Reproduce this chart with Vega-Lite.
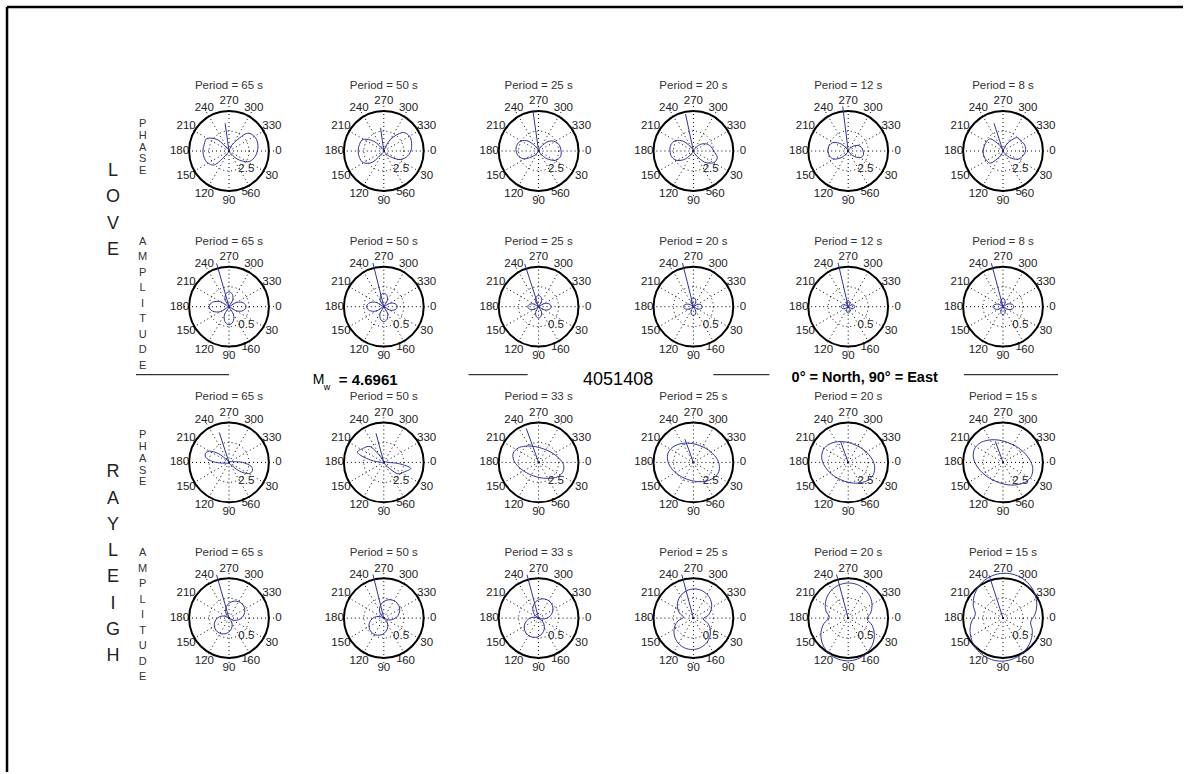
{
  "$schema": "https://vega.github.io/schema/vega-lite/v6.json",
  "background": "white",
  "padding": {"left": 5, "top": 5, "right": 0, "bottom": 0},
  "bounds": "flush",
  "spacing": {"row": 35.7, "column": 34.8},
  "data": {
    "values": [
      {"r": 0, "c": 0, "k": "phase", "t": "Period = 65 s", "rt": [2.5, 5], "g": [0,30,60,90,120,150,180,210,240,270,300,330],
       "az": [0,15,30,45,60,75,90,105,120,135,150,165,180,195,210,225,240,255,270,285,300,315,330,345],
       "v": [3.15,2.9,2.4,1.25,0.15,0.1,0.1,0.1,0.25,2.1,2.7,2.85,2.9,2.85,2.8,1.75,0.25,0.1,0.1,0.15,1.0,2.75,3.25,3.3], "sa": 262, "sv": 3.1},
      {"r": 0, "c": 1, "k": "phase", "t": "Period = 50 s", "rt": [2.5, 5], "g": [0,30,60,90,120,150,180,210,240,270,300,330],
       "az": [0,15,30,45,60,75,90,105,120,135,150,165,180,195,210,225,240,255,270,285,300,315,330,345],
       "v": [3.0,2.6,1.9,0.75,0.1,0.1,0.1,0.1,0.2,1.75,2.6,2.8,2.85,2.8,2.6,1.5,0.2,0.1,0.1,0.2,1.5,2.9,3.3,3.2], "sa": 262, "sv": 2.6},
      {"r": 0, "c": 2, "k": "phase", "t": "Period = 25 s", "rt": [2.5, 5], "g": [0,30,60,90,120,150,180,210,240,270,300,330],
       "az": [0,15,30,45,60,75,90,105,120,135,150,165,180,195,210,225,240,255,270,285,300,315,330,345],
       "v": [2.5,2.5,2.1,1.1,0.15,0.1,0.1,0.1,0.15,0.75,1.75,2.3,2.5,2.5,2.25,1.5,0.4,0.1,0.1,0.15,0.6,1.5,2.1,2.4], "sa": 262, "sv": 4.6},
      {"r": 0, "c": 3, "k": "phase", "t": "Period = 20 s", "rt": [2.5, 5], "g": [0,30,60,90,120,150,180,210,240,270,300,330],
       "az": [0,15,30,45,60,75,90,105,120,135,150,165,180,195,210,225,240,255,270,285,300,315,330,345],
       "v": [2.25,2.75,2.6,1.75,0.5,0.1,0.1,0.1,0.25,1.25,2.1,2.5,2.6,2.6,2.3,1.5,0.4,0.1,0.1,0.1,0.3,1.0,1.6,2.0], "sa": 258, "sv": 4.2},
      {"r": 0, "c": 4, "k": "phase", "t": "Period = 12 s", "rt": [2.5, 5], "g": [0,30,60,90,120,150,180,210,240,270,300,330],
       "az": [0,15,30,45,60,75,90,105,120,135,150,165,180,195,210,225,240,255,270,285,300,315,330,345],
       "v": [1.65,1.75,1.5,0.75,0.1,0.1,0.1,0.1,0.25,1.0,1.8,2.15,2.25,2.2,1.9,1.1,0.25,0.1,0.1,0.1,0.25,0.75,1.25,1.55], "sa": 263, "sv": 5.0},
      {"r": 0, "c": 5, "k": "phase", "t": "Period = 8 s", "rt": [2.5, 5], "g": [0,30,60,90,120,150,180,210,240,270,300,330],
       "az": [0,15,30,45,60,75,90,105,120,135,150,165,180,195,210,225,240,255,270,285,300,315,330,345],
       "v": [2.5,2.25,1.85,1.0,0.15,0.1,0.1,0.1,0.75,1.9,2.1,2.2,2.2,2.15,2.1,1.9,0.75,0.1,0.1,0.1,1.0,2.1,2.3,2.5], "sa": 252, "sv": 3.25},

      {"r": 1, "c": 0, "k": "amp", "t": "Period = 65 s", "rt": [0.5, 1], "g": [0,30,60,90,120,150,180,210,240,270,300,330],
       "az": [0,15,30,45,60,75,90,105,120,135,150,165,180,195,210,225,240,255,270,285,300,315,330,345],
       "v": [0.38,0.329,0.19,0,0.2,0.346,0.4,0.346,0.2,0,0.22,0.381,0.44,0.381,0.22,0,0.165,0.286,0.33,0.286,0.165,0,0.19,0.329], "sa": 254, "sv": 1},
      {"r": 1, "c": 1, "k": "amp", "t": "Period = 50 s", "rt": [0.5, 1], "g": [0,30,60,90,120,150,180,210,240,270,300,330],
       "az": [0,15,30,45,60,75,90,105,120,135,150,165,180,195,210,225,240,255,270,285,300,315,330,345],
       "v": [0.3,0.26,0.15,0,0.165,0.286,0.33,0.286,0.165,0,0.19,0.329,0.38,0.329,0.19,0,0.15,0.26,0.3,0.26,0.15,0,0.15,0.26], "sa": 256, "sv": 1},
      {"r": 1, "c": 2, "k": "amp", "t": "Period = 25 s", "rt": [0.5, 1], "g": [0,30,60,90,120,150,180,210,240,270,300,330],
       "az": [0,15,30,45,60,75,90,105,120,135,150,165,180,195,210,225,240,255,270,285,300,315,330,345],
       "v": [0.28,0.242,0.14,0,0.125,0.217,0.25,0.217,0.125,0,0.12,0.208,0.24,0.208,0.12,0,0.125,0.217,0.25,0.217,0.125,0,0.14,0.242], "sa": 252, "sv": 1},
      {"r": 1, "c": 3, "k": "amp", "t": "Period = 20 s", "rt": [0.5, 1], "g": [0,30,60,90,120,150,180,210,240,270,300,330],
       "az": [0,15,30,45,60,75,90,105,120,135,150,165,180,195,210,225,240,255,270,285,300,315,330,345],
       "v": [0.2,0.173,0.1,0,0.1,0.173,0.2,0.173,0.1,0,0.11,0.19,0.22,0.19,0.11,0,0.1,0.173,0.2,0.173,0.1,0,0.1,0.173], "sa": 256, "sv": 1},
      {"r": 1, "c": 4, "k": "amp", "t": "Period = 12 s", "rt": [0.5, 1], "g": [0,30,60,90,120,150,180,210,240,270,300,330],
       "az": [0,15,30,45,60,75,90,105,120,135,150,165,180,195,210,225,240,255,270,285,300,315,330,345],
       "v": [0.15,0.13,0.075,0,0.07,0.121,0.14,0.121,0.07,0,0.08,0.139,0.16,0.139,0.08,0,0.07,0.121,0.14,0.121,0.07,0,0.075,0.13], "sa": 257, "sv": 1},
      {"r": 1, "c": 5, "k": "amp", "t": "Period = 8 s", "rt": [0.5, 1], "g": [0,30,60,90,120,150,180,210,240,270,300,330],
       "az": [0,15,30,45,60,75,90,105,120,135,150,165,180,195,210,225,240,255,270,285,300,315,330,345],
       "v": [0.24,0.208,0.12,0,0.09,0.156,0.18,0.156,0.09,0,0.11,0.19,0.22,0.19,0.11,0,0.09,0.156,0.18,0.156,0.09,0,0.12,0.208], "sa": 255, "sv": 1},

      {"r": 2, "c": 0, "k": "phase", "t": "Period = 65 s", "rt": [2.5, 5], "g": [0,30,60,90,120,150,180,210,240,270,300,330],
       "az": [0,10,20,30,40,55,90,160,180,190,200,210,220,235,270,340],
       "v": [1.5,2.5,2.75,2.5,1.5,0.25,0.1,0.25,1.5,2.5,2.8,2.5,1.5,0.25,0.1,0.25], "sa": 252, "sv": 3.5},
      {"r": 2, "c": 1, "k": "phase", "t": "Period = 50 s", "rt": [2.5, 5], "g": [0,30,60,90,120,150,180,210,240,270,300,330],
       "az": [0,5,12,25,40,50,60,120,180,190,200,215,230,240,250,300],
       "v": [0.5,1.75,3.05,2.5,1.95,0.6,0.1,0.1,0.25,1.5,3.1,2.75,2.25,0.75,0.1,0.1], "sa": 255, "sv": 3.35},
      {"r": 2, "c": 2, "k": "phase", "t": "Period = 33 s", "rt": [2.5, 5], "g": [0,30,60,90,120,150,180,210,240,270,300,330],
       "az": [200,215,230,245,260,275,290,305,320,335,350,5,20,35,50,65,80,95,110,125,140,155,170,185],
       "v": [3.0,2.78,2.35,2.0,1.77,1.64,1.6,1.64,1.77,2.0,2.35,2.78,2.9,2.7,2.3,1.95,1.75,1.64,1.6,1.64,1.77,2.0,2.35,2.78], "sa": 250, "sv": 4.0},
      {"r": 2, "c": 3, "k": "phase", "t": "Period = 25 s", "rt": [2.5, 5], "g": [0,30,60,90,120,150,180,210,240,270,300,330],
       "az": [200,215,230,245,260,275,290,305,320,335,350,5,20,35,50,65,80,95,110,125,140,155,170,185],
       "v": [3.0,2.88,2.62,2.36,2.16,2.04,2.0,2.04,2.16,2.36,2.62,2.88,3.0,2.88,2.62,2.36,2.16,2.04,2.0,2.04,2.16,2.36,2.62,2.88], "sa": 250, "sv": 2.75},
      {"r": 2, "c": 4, "k": "phase", "t": "Period = 20 s", "rt": [2.5, 5], "g": [0,30,60,90,120,150,180,210,240,270,300,330],
       "az": [205,220,235,250,265,280,295,310,325,340,355,10,25,40,55,70,85,100,115,130,145,160,175,190],
       "v": [3.1,2.99,2.73,2.46,2.26,2.14,2.1,2.14,2.26,2.46,2.73,2.99,3.1,2.99,2.73,2.46,2.26,2.14,2.1,2.14,2.26,2.46,2.73,2.99], "sa": 250, "sv": 2.5},
      {"r": 2, "c": 5, "k": "phase", "t": "Period = 15 s", "rt": [2.5, 5], "g": [0,30,60,90,120,150,180,210,240,270,300,330],
       "az": [205,220,235,250,265,280,295,310,325,340,355,10,25,40,55,70,85,100,115,130,145,160,175,190],
       "v": [3.5,3.35,3.0,2.68,2.44,2.3,2.25,2.3,2.44,2.68,3.0,3.35,3.5,3.35,3.0,2.68,2.44,2.3,2.25,2.3,2.44,2.68,3.0,3.35], "sa": 250, "sv": 2.5},

      {"r": 3, "c": 0, "k": "amp", "t": "Period = 65 s", "rt": [0.5, 1], "g": [0,30,60,90,120,150,180,210,240,270,300,330],
       "az": [310,325,340,355,10,25,40,55,70,85,100,115,130,145,160,175,190,205,220,235,250,265,280,295],
       "v": [0.43,0.415,0.372,0.304,0.215,0.111,0,0.104,0.2,0.283,0.346,0.386,0.4,0.386,0.346,0.283,0.2,0.104,0,0.111,0.215,0.304,0.372,0.415], "sa": 254, "sv": 1},
      {"r": 3, "c": 1, "k": "amp", "t": "Period = 50 s", "rt": [0.5, 1], "g": [0,30,60,90,120,150,180,210,240,270,300,330],
       "az": [305,320,335,350,5,20,35,50,65,80,95,110,125,140,155,170,185,200,215,230,245,260,275,290],
       "v": [0.45,0.435,0.39,0.318,0.225,0.117,0,0.109,0.21,0.297,0.364,0.406,0.42,0.406,0.364,0.297,0.21,0.109,0,0.117,0.225,0.318,0.39,0.435], "sa": 256, "sv": 1},
      {"r": 3, "c": 2, "k": "amp", "t": "Period = 33 s", "rt": [0.5, 1], "g": [0,30,60,90,120,150,180,210,240,270,300,330],
       "az": [295,310,325,340,355,10,25,40,55,70,85,100,115,130,145,160,175,190,205,220,235,250,265,280],
       "v": [0.45,0.435,0.39,0.318,0.225,0.117,0,0.117,0.225,0.318,0.39,0.435,0.45,0.435,0.39,0.318,0.225,0.117,0,0.117,0.225,0.318,0.39,0.435], "sa": 255, "sv": 1},
      {"r": 3, "c": 3, "k": "amp", "t": "Period = 25 s", "rt": [0.5, 1], "g": [0,30,60,90,120,150,180,210,240,270,300,330],
       "az": [275,290,305,320,335,350,5,20,35,50,65,80,95,110,125,140,155,170,185,200,215,230,245,260],
       "v": [0.65,0.635,0.592,0.524,0.435,0.331,0.22,0.344,0.46,0.559,0.636,0.684,0.7,0.684,0.636,0.559,0.46,0.344,0.22,0.331,0.435,0.524,0.592,0.635], "sa": 255, "sv": 1},
      {"r": 3, "c": 4, "k": "amp", "t": "Period = 20 s", "rt": [0.5, 1], "g": [0,30,60,90,120,150,180,210,240,270,300,330],
       "az": [272,287,302,317,332,347,2,17,32,47,62,77,92,107,122,137,152,167,182,197,212,227,242,257],
       "v": [0.78,0.768,0.732,0.675,0.6,0.513,0.42,0.557,0.685,0.795,0.879,0.932,0.95,0.932,0.879,0.795,0.685,0.557,0.42,0.513,0.6,0.675,0.732,0.768], "sa": 255, "sv": 1},
      {"r": 3, "c": 5, "k": "amp", "t": "Period = 15 s", "rt": [0.5, 1], "g": [0,30,60,90,120,150,180,210,240,270,300,330],
       "az": [278,293,308,323,338,353,8,23,38,53,68,83,98,113,128,143,158,173,188,203,218,233,248,263],
       "v": [1.0,0.987,0.949,0.889,0.81,0.718,0.62,0.708,0.79,0.86,0.914,0.948,0.96,0.948,0.914,0.86,0.79,0.708,0.62,0.718,0.81,0.889,0.949,0.987], "sa": 252, "sv": 1}
    ]
  },
  "facet": {
    "row": {"field": "r", "type": "ordinal", "header": {"labels": false, "title": null}},
    "column": {"field": "c", "type": "ordinal", "header": {"labels": false, "title": null}}
  },
  "spec": {
    "width": 120,
    "height": 120,
    "layer": [
      {
        "transform": [
          {"flatten": ["g"]},
          {"calculate": "0", "as": "o"},
          {"calculate": "cos(datum.g * PI / 180)", "as": "gx"},
          {"calculate": "-sin(datum.g * PI / 180)", "as": "gy"}
        ],
        "mark": {"type": "rule", "color": "#000000", "strokeWidth": 1, "strokeDash": [1, 3]},
        "encoding": {
          "x": {"field": "o", "type": "quantitative", "scale": {"domain": [-1.333333, 1.333333], "nice": false, "zero": false}, "axis": null},
          "y": {"field": "o", "type": "quantitative", "scale": {"domain": [-1.333333, 1.333333], "nice": false, "zero": false}, "axis": null},
          "x2": {"field": "gx"},
          "y2": {"field": "gy"}
        }
      },
      {
        "transform": [{"calculate": "0", "as": "o"}],
        "mark": {"type": "point", "shape": "circle", "size": 1590.4, "filled": false, "color": "#000000", "opacity": 1, "strokeWidth": 1, "strokeDash": [1, 3]},
        "encoding": {
          "x": {"field": "o", "type": "quantitative", "scale": {"domain": [-1.333333, 1.333333], "nice": false, "zero": false}, "axis": null},
          "y": {"field": "o", "type": "quantitative", "scale": {"domain": [-1.333333, 1.333333], "nice": false, "zero": false}, "axis": null}
        }
      },
      {
        "transform": [
          {"flatten": ["g"]},
          {"calculate": "1.1 * cos(datum.g * PI / 180)", "as": "tx"},
          {"calculate": "-1.1 * sin(datum.g * PI / 180)", "as": "ty"}
        ],
        "mark": {"type": "text", "fontSize": 11.5, "color": "#222222", "align": "center", "baseline": "middle"},
        "encoding": {
          "x": {"field": "tx", "type": "quantitative", "scale": {"domain": [-1.333333, 1.333333], "nice": false, "zero": false}, "axis": null},
          "y": {"field": "ty", "type": "quantitative", "scale": {"domain": [-1.333333, 1.333333], "nice": false, "zero": false}, "axis": null},
          "text": {"field": "g", "type": "quantitative", "format": "d"}
        }
      },
      {
        "transform": [
          {"flatten": ["rt"]},
          {"calculate": "datum.rt / (datum.k == 'phase' ? 5 : 1) + 0.025", "as": "rn"},
          {"calculate": "datum.rn * cos(82 * PI / 180)", "as": "rx"},
          {"calculate": "-datum.rn * sin(82 * PI / 180)", "as": "ry"}
        ],
        "mark": {"type": "text", "fontSize": 11.5, "color": "#222222", "align": "left", "baseline": "bottom", "dx": 6},
        "encoding": {
          "x": {"field": "rx", "type": "quantitative", "scale": {"domain": [-1.333333, 1.333333], "nice": false, "zero": false}, "axis": null},
          "y": {"field": "ry", "type": "quantitative", "scale": {"domain": [-1.333333, 1.333333], "nice": false, "zero": false}, "axis": null},
          "text": {"field": "rt", "type": "quantitative", "format": "~g"}
        }
      },
      {
        "transform": [{"calculate": "0", "as": "o"}],
        "mark": {"type": "point", "shape": "circle", "size": 6361.7, "filled": false, "color": "#000000", "opacity": 1, "strokeWidth": 2},
        "encoding": {
          "x": {"field": "o", "type": "quantitative", "scale": {"domain": [-1.333333, 1.333333], "nice": false, "zero": false}, "axis": null},
          "y": {"field": "o", "type": "quantitative", "scale": {"domain": [-1.333333, 1.333333], "nice": false, "zero": false}, "axis": null}
        }
      },
      {
        "transform": [{"calculate": "0", "as": "o"}, {"calculate": "1.444", "as": "ty"}],
        "mark": {"type": "text", "fontSize": 11.5, "color": "#333333", "align": "center", "baseline": "middle"},
        "encoding": {
          "x": {"field": "o", "type": "quantitative", "scale": {"domain": [-1.333333, 1.333333], "nice": false, "zero": false}, "axis": null},
          "y": {"field": "ty", "type": "quantitative", "scale": {"domain": [-1.333333, 1.333333], "nice": false, "zero": false}, "axis": null},
          "text": {"field": "t"}
        }
      },
      {
        "transform": [
          {"flatten": ["az", "v"]},
          {"window": [{"op": "row_number", "as": "i"}], "groupby": ["r", "c"]},
          {"calculate": "datum.v / (datum.k == 'phase' ? 5 : 1)", "as": "n"},
          {"calculate": "datum.n * cos(datum.az * PI / 180)", "as": "px"},
          {"calculate": "-datum.n * sin(datum.az * PI / 180)", "as": "py"}
        ],
        "mark": {"type": "line", "interpolate": "cardinal-closed", "color": "#3232a0", "strokeWidth": 1},
        "encoding": {
          "x": {"field": "px", "type": "quantitative", "scale": {"domain": [-1.333333, 1.333333], "nice": false, "zero": false}, "axis": null},
          "y": {"field": "py", "type": "quantitative", "scale": {"domain": [-1.333333, 1.333333], "nice": false, "zero": false}, "axis": null},
          "order": {"field": "i", "type": "quantitative"}
        }
      },
      {
        "transform": [
          {"calculate": "0", "as": "o"},
          {"calculate": "datum.sv / (datum.k == 'phase' ? 5 : 1) * cos(datum.sa * PI / 180)", "as": "sx"},
          {"calculate": "-datum.sv / (datum.k == 'phase' ? 5 : 1) * sin(datum.sa * PI / 180)", "as": "sy"}
        ],
        "mark": {"type": "rule", "color": "#3232a0", "strokeWidth": 1},
        "encoding": {
          "x": {"field": "o", "type": "quantitative", "scale": {"domain": [-1.333333, 1.333333], "nice": false, "zero": false}, "axis": null},
          "y": {"field": "o", "type": "quantitative", "scale": {"domain": [-1.333333, 1.333333], "nice": false, "zero": false}, "axis": null},
          "x2": {"field": "sx"},
          "y2": {"field": "sy"}
        }
      },
      {
        "transform": [{"filter": "datum.c == 0 && datum.k == 'phase'"}, {"calculate": "-1.92", "as": "lx"}, {"calculate": "0.6", "as": "ly"}],
        "mark": {"type": "text", "fontSize": 11, "color": "#333333", "align": "center", "baseline": "middle", "lineBreak": "\n", "lineHeight": 11.75},
        "encoding": {
          "x": {"field": "lx", "type": "quantitative", "scale": {"domain": [-1.333333, 1.333333], "nice": false, "zero": false}, "axis": null},
          "y": {"field": "ly", "type": "quantitative", "scale": {"domain": [-1.333333, 1.333333], "nice": false, "zero": false}, "axis": null},
          "text": {"value": "P\nH\nA\nS\nE"}
        }
      },
      {
        "transform": [{"filter": "datum.c == 0 && datum.k == 'amp'"}, {"calculate": "-1.92", "as": "lx"}, {"calculate": "1.444", "as": "ly"}],
        "mark": {"type": "text", "fontSize": 11, "color": "#333333", "align": "center", "baseline": "middle", "lineBreak": "\n", "lineHeight": 15.5},
        "encoding": {
          "x": {"field": "lx", "type": "quantitative", "scale": {"domain": [-1.333333, 1.333333], "nice": false, "zero": false}, "axis": null},
          "y": {"field": "ly", "type": "quantitative", "scale": {"domain": [-1.333333, 1.333333], "nice": false, "zero": false}, "axis": null},
          "text": {"value": "A\nM\nP\nL\nI\nT\nU\nD\nE"}
        }
      },
      {
        "transform": [{"filter": "datum.r == 0 && datum.c == 0"}, {"calculate": "-2.578", "as": "lx"}, {"calculate": "-0.444", "as": "ly"}],
        "mark": {"type": "text", "fontSize": 18, "color": "#222222", "align": "center", "baseline": "middle", "lineBreak": "\n", "lineHeight": 26.5},
        "encoding": {
          "x": {"field": "lx", "type": "quantitative", "scale": {"domain": [-1.333333, 1.333333], "nice": false, "zero": false}, "axis": null},
          "y": {"field": "ly", "type": "quantitative", "scale": {"domain": [-1.333333, 1.333333], "nice": false, "zero": false}, "axis": null},
          "text": {"value": "L\nO\nV\nE"}
        }
      },
      {
        "transform": [{"filter": "datum.r == 2 && datum.c == 0"}, {"calculate": "-2.578", "as": "lx"}, {"calculate": "-0.222", "as": "ly"}],
        "mark": {"type": "text", "fontSize": 18, "color": "#222222", "align": "center", "baseline": "middle", "lineBreak": "\n", "lineHeight": 26.25},
        "encoding": {
          "x": {"field": "lx", "type": "quantitative", "scale": {"domain": [-1.333333, 1.333333], "nice": false, "zero": false}, "axis": null},
          "y": {"field": "ly", "type": "quantitative", "scale": {"domain": [-1.333333, 1.333333], "nice": false, "zero": false}, "axis": null},
          "text": {"value": "R\nA\nY\nL\nE\nI\nG\nH"}
        }
      },
      {
        "transform": [{"filter": "datum.r == 1"}, {"calculate": "datum.c == 0 ? -2.067 : datum.c == 2 ? -1.556 : datum.c == 3 ? 0.444 : datum.c == 5 ? -0.867 : null", "as": "ax"}, {"filter": "datum.ax != null"}, {"calculate": "datum.c == 0 ? 0 : datum.c == 2 ? -0.244 : datum.c == 3 ? 1.689 : 1.222", "as": "bx"}, {"calculate": "-1.511", "as": "ly"}],
        "mark": {"type": "rule", "color": "#000000", "strokeWidth": 1},
        "encoding": {
          "x": {"field": "ax", "type": "quantitative", "scale": {"domain": [-1.333333, 1.333333], "nice": false, "zero": false}, "axis": null},
          "x2": {"field": "bx"},
          "y": {"field": "ly", "type": "quantitative", "scale": {"domain": [-1.333333, 1.333333], "nice": false, "zero": false}, "axis": null}
        }
      },
      {
        "transform": [{"filter": "datum.r == 1 && datum.c == 1"}, {"calculate": "-1.578", "as": "lx"}, {"calculate": "-1.622", "as": "ly"}],
        "mark": {"type": "text", "fontSize": 14, "color": "#000000", "align": "left", "baseline": "middle"},
        "encoding": {
          "x": {"field": "lx", "type": "quantitative", "scale": {"domain": [-1.333333, 1.333333], "nice": false, "zero": false}, "axis": null},
          "y": {"field": "ly", "type": "quantitative", "scale": {"domain": [-1.333333, 1.333333], "nice": false, "zero": false}, "axis": null},
          "text": {"value": "M"}
        }
      },
      {
        "transform": [{"filter": "datum.r == 1 && datum.c == 1"}, {"calculate": "-1.333", "as": "lx"}, {"calculate": "-1.778", "as": "ly"}],
        "mark": {"type": "text", "fontSize": 9, "color": "#000000", "align": "left", "baseline": "middle"},
        "encoding": {
          "x": {"field": "lx", "type": "quantitative", "scale": {"domain": [-1.333333, 1.333333], "nice": false, "zero": false}, "axis": null},
          "y": {"field": "ly", "type": "quantitative", "scale": {"domain": [-1.333333, 1.333333], "nice": false, "zero": false}, "axis": null},
          "text": {"value": "w"}
        }
      },
      {
        "transform": [{"filter": "datum.r == 1 && datum.c == 1"}, {"calculate": "-1.0", "as": "lx"}, {"calculate": "-1.622", "as": "ly"}],
        "mark": {"type": "text", "fontSize": 15, "fontWeight": "bold", "color": "#000000", "align": "left", "baseline": "middle"},
        "encoding": {
          "x": {"field": "lx", "type": "quantitative", "scale": {"domain": [-1.333333, 1.333333], "nice": false, "zero": false}, "axis": null},
          "y": {"field": "ly", "type": "quantitative", "scale": {"domain": [-1.333333, 1.333333], "nice": false, "zero": false}, "axis": null},
          "text": {"value": "= 4.6961"}
        }
      },
      {
        "transform": [{"filter": "datum.r == 1 && datum.c == 2"}, {"calculate": "1.767", "as": "lx"}, {"calculate": "-1.622", "as": "ly"}],
        "mark": {"type": "text", "fontSize": 18, "color": "#000000", "align": "center", "baseline": "middle"},
        "encoding": {
          "x": {"field": "lx", "type": "quantitative", "scale": {"domain": [-1.333333, 1.333333], "nice": false, "zero": false}, "axis": null},
          "y": {"field": "ly", "type": "quantitative", "scale": {"domain": [-1.333333, 1.333333], "nice": false, "zero": false}, "axis": null},
          "text": {"value": "4051408"}
        }
      },
      {
        "transform": [{"filter": "datum.r == 1 && datum.c == 4"}, {"calculate": "0.367", "as": "lx"}, {"calculate": "-1.578", "as": "ly"}],
        "mark": {"type": "text", "fontSize": 14.5, "fontWeight": "bold", "color": "#000000", "align": "center", "baseline": "middle"},
        "encoding": {
          "x": {"field": "lx", "type": "quantitative", "scale": {"domain": [-1.333333, 1.333333], "nice": false, "zero": false}, "axis": null},
          "y": {"field": "ly", "type": "quantitative", "scale": {"domain": [-1.333333, 1.333333], "nice": false, "zero": false}, "axis": null},
          "text": {"value": "0° = North, 90° = East"}
        }
      },
      {
        "transform": [{"filter": "datum.r == 0 && datum.c == 0"}, {"calculate": "-4.933", "as": "ax"}, {"calculate": "21.2", "as": "bx"}, {"calculate": "3.2", "as": "ly"}],
        "mark": {"type": "rule", "color": "#000000", "strokeWidth": 2.5},
        "encoding": {
          "x": {"field": "ax", "type": "quantitative", "scale": {"domain": [-1.333333, 1.333333], "nice": false, "zero": false}, "axis": null},
          "x2": {"field": "bx"},
          "y": {"field": "ly", "type": "quantitative", "scale": {"domain": [-1.333333, 1.333333], "nice": false, "zero": false}, "axis": null}
        }
      },
      {
        "transform": [{"filter": "datum.r == 0 && datum.c == 0"}, {"calculate": "-4.933", "as": "ax"}, {"calculate": "3.2", "as": "ay"}, {"calculate": "-13.8", "as": "by"}],
        "mark": {"type": "rule", "color": "#000000", "strokeWidth": 2.5},
        "encoding": {
          "x": {"field": "ax", "type": "quantitative", "scale": {"domain": [-1.333333, 1.333333], "nice": false, "zero": false}, "axis": null},
          "y": {"field": "ay", "type": "quantitative", "scale": {"domain": [-1.333333, 1.333333], "nice": false, "zero": false}, "axis": null},
          "y2": {"field": "by"}
        }
      }
    ]
  },
  "config": {
    "view": {"stroke": null},
    "font": "Liberation Sans"
  }
}
